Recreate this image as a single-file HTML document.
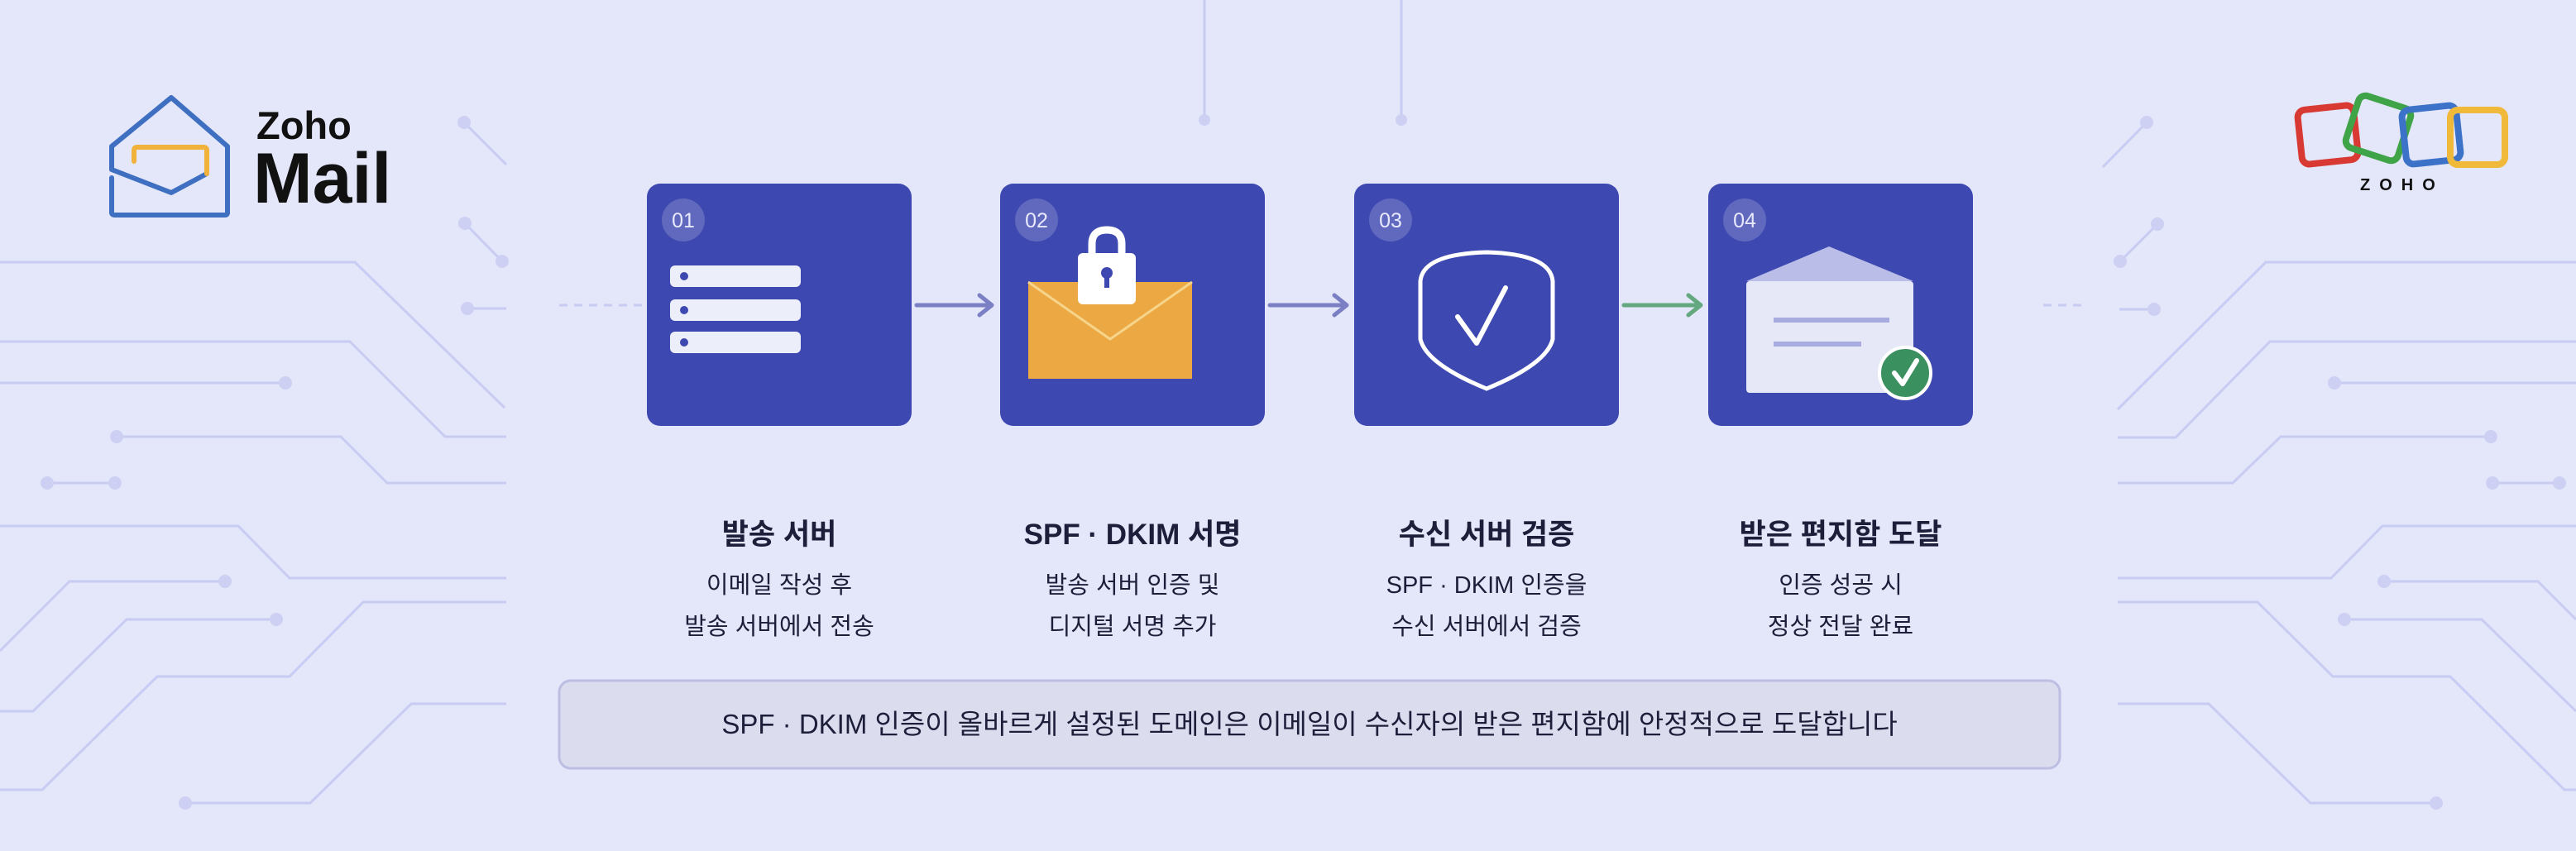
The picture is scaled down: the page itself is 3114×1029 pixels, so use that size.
<!DOCTYPE html>
<html><head><meta charset="utf-8"><style>
html,body{margin:0;padding:0}
body{width:3114px;height:1029px;background:#e4e6fa;overflow:hidden;position:relative;font-family:"Liberation Sans","Noto Sans CJK KR",sans-serif}
svg{position:absolute;left:0;top:0}
.t{position:absolute;width:420px;text-align:center;color:#1d1f3a}
.t b{display:block;font-size:35px;margin-bottom:14px;font-family:"Liberation Sans","Noto Sans CJK KR",sans-serif}
.t span{display:block;font-size:29px;line-height:50px}
</style></head><body>
<svg width="3114" height="1029" viewBox="0 0 3114 1029">
<g fill="none" stroke="#c8ccf2" stroke-width="3">
<polyline points="0,317 429,317 610,493"/>
<polyline points="0,413 423,413 538,528 612,528"/>
<polyline points="0,463 345,463"/>
<polyline points="141,528 412,528 468,584 612,584"/>
<polyline points="57,584 139,584"/>
<polyline points="0,636 288,636 350,699 612,699"/>
<polyline points="0,787 84,703 272,703"/>
<polyline points="0,860 40,860 153,749 334,749"/>
<polyline points="0,955 51,955 190,818 350,818 439,728 612,728"/>
<polyline points="224,971 375,971 497,851 612,851"/>
<polyline points="561,148 612,199"/>
<polyline points="562,270 607,316"/>
<polyline points="565,373 612,373"/>
<polyline points="3114,317 2739,317 2560,495"/>
<polyline points="3114,413 2744,413 2630,529 2560,529"/>
<polyline points="2822,463 3114,463"/>
<polyline points="3011,528 2757,528 2699,584 2560,584"/>
<polyline points="3013,584 3094,584"/>
<polyline points="3114,636 2880,636 2818,699 2560,699"/>
<polyline points="2882,703 3068,703 3114,749"/>
<polyline points="2834,749 3000,749 3114,860"/>
<polyline points="2560,728 2729,728 2820,818 2962,818 3100,955 3114,955"/>
<polyline points="2560,851 2670,851 2793,971 2945,971"/>
<polyline points="1456,0 1456,145"/>
<polyline points="1694,0 1694,145"/>
<polyline points="2595,148 2542,202"/>
<polyline points="2608,271 2563,316"/>
<polyline points="2562,374 2604,374"/>
</g>
<g fill="#cdd0f2">
<circle cx="345" cy="463" r="8"/><circle cx="141" cy="528" r="8"/><circle cx="57" cy="584" r="8"/><circle cx="139" cy="584" r="8"/>
<circle cx="272" cy="703" r="8"/><circle cx="334" cy="749" r="8"/><circle cx="224" cy="971" r="8"/>
<circle cx="561" cy="148" r="8"/><circle cx="562" cy="270" r="8"/><circle cx="607" cy="316" r="8"/><circle cx="565" cy="373" r="8"/>
<circle cx="2822" cy="463" r="8"/><circle cx="3011" cy="528" r="8"/><circle cx="3013" cy="584" r="8"/><circle cx="3094" cy="584" r="8"/>
<circle cx="2882" cy="703" r="8"/><circle cx="2834" cy="749" r="8"/><circle cx="2945" cy="971" r="8"/>
<circle cx="1456" cy="145" r="7"/><circle cx="1694" cy="145" r="7"/>
<circle cx="2595" cy="148" r="8"/><circle cx="2608" cy="271" r="8"/><circle cx="2563" cy="316" r="8"/><circle cx="2604" cy="374" r="8"/>
</g>
<line x1="676" y1="369" x2="782" y2="369" stroke="#c8ccf2" stroke-width="3" stroke-dasharray="10,8"/>
<line x1="2470" y1="369" x2="2520" y2="369" stroke="#c8ccf2" stroke-width="3" stroke-dasharray="10,8"/>

<!-- Zoho Mail logo -->
<g fill="none" stroke="#3f6fc0" stroke-width="6" stroke-linejoin="round" stroke-linecap="round">
<path d="M135,215 L135,257 Q135,260 139,260 L272,260 Q275,260 275,257 L275,177 L207,118 L135,177 L135,205 L207,233 L250,210"/>
</g>
<path d="M162,195 L162,182 Q162,178 166,178 L246,178 Q250,178 250,182 L250,210" fill="none" stroke="#f0b23a" stroke-width="6" stroke-linecap="round"/>
<text x="310" y="168" font-family="Liberation Sans" font-size="47" font-weight="bold" fill="#111">Zoho</text>
<text x="306" y="245" font-family="Liberation Sans" font-size="86" font-weight="bold" fill="#111">Mail</text>

<!-- ZOHO logo -->
<g fill="none" stroke-width="8">
<rect x="2780" y="130" width="68" height="66" rx="9" transform="rotate(-6 2814 163)" stroke="#d83a33"/>
<rect x="2842" y="122" width="66" height="66" rx="9" transform="rotate(18 2875 155)" stroke="#3fa447"/>
<rect x="2906" y="130" width="66" height="66" rx="9" transform="rotate(-6 2939 163)" stroke="#3c73c8"/>
<rect x="2962" y="133" width="66" height="66" rx="9" stroke="#f0b93a"/>
</g>
<text x="2853" y="230" font-family="Liberation Sans" font-size="20" font-weight="bold" letter-spacing="11" fill="#111">ZOHO</text>

<!-- cards -->
<g fill="#3d48b0">
<rect x="782" y="222" width="320" height="293" rx="16"/>
<rect x="1209" y="222" width="320" height="293" rx="16"/>
<rect x="1637" y="222" width="320" height="293" rx="16"/>
<rect x="2065" y="222" width="320" height="293" rx="16"/>
</g>
<g fill="rgba(255,255,255,0.18)">
<circle cx="826" cy="266" r="26"/><circle cx="1253" cy="266" r="26"/><circle cx="1681" cy="266" r="26"/><circle cx="2109" cy="266" r="26"/>
</g>
<g font-family="Liberation Sans" font-size="25" fill="#e8e9ff" text-anchor="middle">
<text x="826" y="275">01</text><text x="1253" y="275">02</text><text x="1681" y="275">03</text><text x="2109" y="275">04</text>
</g>
<g fill="#eceefa">
<rect x="810" y="321" width="158" height="26" rx="6"/>
<rect x="810" y="362" width="158" height="26" rx="6"/>
<rect x="810" y="401" width="158" height="26" rx="6"/>
</g>
<g fill="#3d48b0"><circle cx="827" cy="334" r="5"/><circle cx="827" cy="375" r="5"/><circle cx="827" cy="414" r="5"/></g>
<rect x="1243" y="341" width="198" height="117" fill="#eba843"/>
<polyline points="1243,341 1342,410 1441,341" fill="none" stroke="#f6d48a" stroke-width="3"/>
<path d="M1320,310 L1320,295 Q1320,278 1338,278 Q1356,278 1356,295 L1356,310" fill="none" stroke="#fff" stroke-width="9"/>
<rect x="1303" y="306" width="70" height="62" rx="6" fill="#fff"/>
<circle cx="1338" cy="330" r="7" fill="#3d48b0"/><rect x="1335" y="332" width="6" height="16" fill="#3d48b0"/>
<path d="M1717,340 Q1720,307 1797,305 Q1874,307 1877,340 L1877,410 Q1870,440 1797,470 Q1724,440 1717,410 Z" fill="none" stroke="#fff" stroke-width="5"/>
<polyline points="1762,383 1785,415 1820,348" fill="none" stroke="#fff" stroke-width="6" stroke-linecap="round" stroke-linejoin="round"/>
<rect x="2111" y="340" width="202" height="135" rx="4" fill="#e6e8f8"/>
<polygon points="2111,340 2211,298 2313,340" fill="#b9bde8"/>
<rect x="2144" y="384" width="140" height="6" fill="#a7abdd"/>
<rect x="2144" y="413" width="106" height="6" fill="#a7abdd"/>
<circle cx="2303" cy="451" r="31" fill="#3b9060" stroke="#fff" stroke-width="4"/>
<polyline points="2290,451 2300,464 2317,436" fill="none" stroke="#fff" stroke-width="6" stroke-linecap="round" stroke-linejoin="round"/>
<g fill="none" stroke-width="5" stroke-linecap="round" stroke-linejoin="round">
<g stroke="#7b80c4"><line x1="1108" y1="369" x2="1198" y2="369"/><polyline points="1184,357 1199,369 1184,381"/>
<line x1="1535" y1="369" x2="1627" y2="369"/><polyline points="1613,357 1628,369 1613,381"/></g>
<g stroke="#63a87e"><line x1="1963" y1="369" x2="2055" y2="369"/><polyline points="2041,357 2056,369 2041,381"/></g>
</g>
<rect x="676" y="823" width="1814" height="106" rx="14" fill="#dcdcef" stroke="#bcbee2" stroke-width="3"/>
</svg>
<div class="t" style="left:732px;top:618px"><b>발송 서버</b><span>이메일 작성 후</span><span>발송 서버에서 전송</span></div>
<div class="t" style="left:1159px;top:618px"><b>SPF · DKIM 서명</b><span>발송 서버 인증 및</span><span>디지털 서명 추가</span></div>
<div class="t" style="left:1587px;top:618px"><b>수신 서버 검증</b><span>SPF · DKIM 인증을</span><span>수신 서버에서 검증</span></div>
<div class="t" style="left:2015px;top:618px"><b>받은 편지함 도달</b><span>인증 성공 시</span><span>정상 전달 완료</span></div>
<div style="position:absolute;left:676px;top:823px;width:1814px;height:106px;line-height:106px;text-align:center;font-size:33px;color:#1d1f3a">SPF · DKIM 인증이 올바르게 설정된 도메인은 이메일이 수신자의 받은 편지함에 안정적으로 도달합니다</div>
</body></html>
